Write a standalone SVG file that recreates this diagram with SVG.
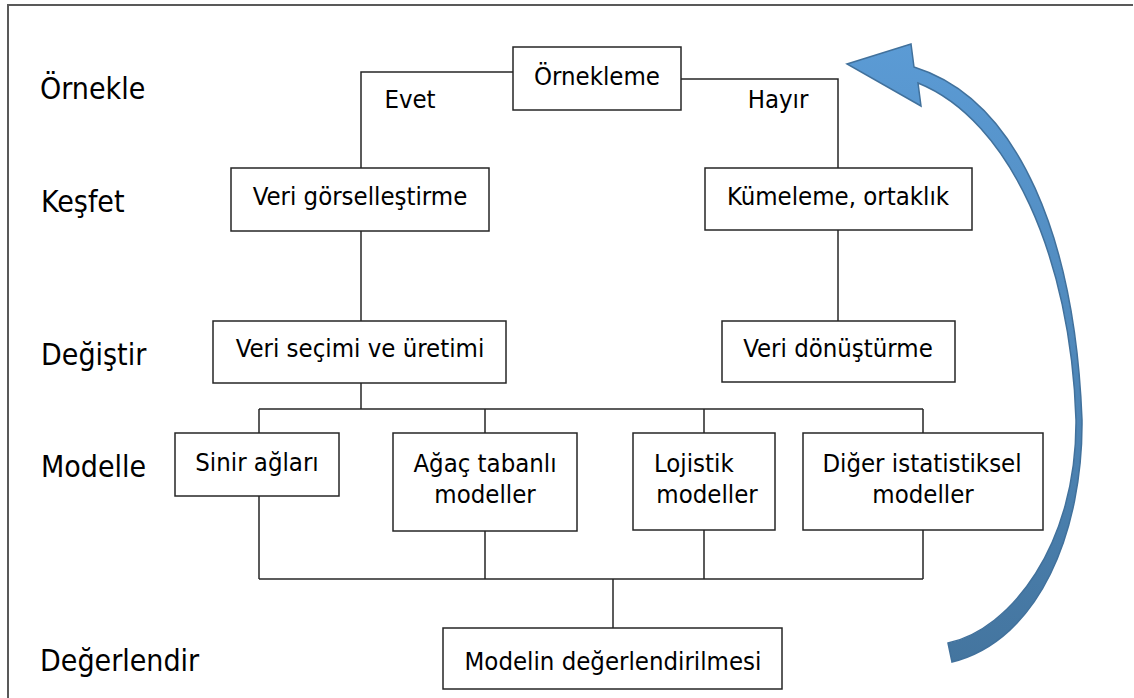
<svg xmlns="http://www.w3.org/2000/svg" width="1134" height="698" viewBox="0 0 1134 698">
  <style>
    .box { fill: #ffffff; stroke: #262626; stroke-width: 1.5; }
    .t { font-family: "DejaVu Sans Condensed", "DejaVu Sans", sans-serif; font-size: 25.5px; fill: #000; text-anchor: middle; }
    .lbl { font-family: "DejaVu Sans Condensed", "DejaVu Sans", sans-serif; font-size: 30px; fill: #000; }
    .edge { fill: none; stroke: #262626; stroke-width: 1.5; }
  </style>
  <defs>
    <linearGradient id="arrowFill" x1="0" y1="0" x2="0" y2="1">
      <stop offset="0" stop-color="#5b9bd5"/>
      <stop offset="1" stop-color="#44759f"/>
    </linearGradient>
  </defs>
  <rect width="1134" height="698" fill="#ffffff"/>
  <!-- outer frame (top and left edges) -->
  <path d="M8,698 V5 H1133" fill="none" stroke="#595959" stroke-width="2"/>

  <!-- phase labels -->
  <g id="phases">
    <text class="lbl" x="40" y="99">Örnekle</text>
    <text class="lbl" x="41" y="212">Keşfet</text>
    <text class="lbl" x="41" y="365">Değiştir</text>
    <text class="lbl" x="41" y="477">Modelle</text>
    <text class="lbl" x="40" y="671">Değerlendir</text>
  </g>

  <!-- connectors -->
  <g id="connectors">
    <path class="edge" d="M513,72 H361 V168"/>
    <path class="edge" d="M681,79 H838 V168"/>
    <path class="edge" d="M361,231 V321"/>
    <path class="edge" d="M838,230 V321"/>
    <path class="edge" d="M361,383 V409"/>
    <path class="edge" d="M259,409 H923"/>
    <path class="edge" d="M259,409 V433 M485,409 V433 M704,409 V433 M923,409 V433"/>
    <path class="edge" d="M259,496 V579 M485,531 V579 M704,530 V579 M923,530 V579"/>
    <path class="edge" d="M259,579 H923"/>
    <path class="edge" d="M613,579 V628"/>
    <text class="t" x="410" y="108">Evet</text>
    <text class="t" x="778" y="108">Hayır</text>
  </g>

  <g id="ornekleme">
    <rect class="box" x="513" y="47" width="168" height="63"/>
    <text class="t" x="597" y="85">Örnekleme</text>
  </g>
  <g id="veri-gorsellestirme">
    <rect class="box" x="231" y="168" width="258" height="63"/>
    <text class="t" x="360" y="205">Veri görselleştirme</text>
  </g>
  <g id="kumeleme">
    <rect class="box" x="705" y="168" width="267" height="62"/>
    <text class="t" x="838" y="205">Kümeleme, ortaklık</text>
  </g>
  <g id="veri-secimi">
    <rect class="box" x="213" y="321" width="293" height="62"/>
    <text class="t" x="360" y="357">Veri seçimi ve üretimi</text>
  </g>
  <g id="veri-donusturme">
    <rect class="box" x="722" y="321" width="233" height="61"/>
    <text class="t" x="838" y="357">Veri dönüştürme</text>
  </g>
  <g id="sinir-aglari">
    <rect class="box" x="175" y="433" width="164" height="63"/>
    <text class="t" x="257" y="471">Sinir ağları</text>
  </g>
  <g id="agac-tabanli">
    <rect class="box" x="393" y="433" width="184" height="98"/>
    <text class="t" x="485" y="472">Ağaç tabanlı</text>
    <text class="t" x="485" y="503">modeller</text>
  </g>
  <g id="lojistik">
    <rect class="box" x="633" y="433" width="142" height="97"/>
    <text class="t" x="654" y="472" style="text-anchor:start">Lojistik</text>
    <text class="t" x="707" y="503">modeller</text>
  </g>
  <g id="diger">
    <rect class="box" x="803" y="433" width="240" height="97"/>
    <text class="t" x="922" y="472">Diğer istatistiksel</text>
    <text class="t" x="923" y="503">modeller</text>
  </g>
  <g id="model-degerlendirme">
    <rect class="box" x="443" y="628" width="339" height="61"/>
    <text class="t" x="613" y="670">Modelin değerlendirilmesi</text>
  </g>

  <!-- curved return arrow -->
  <g id="return-arrow">
    <path d="M914,67 C1020,100 1075,240 1082,420 C1083,530 1040,640 952,662 L948,643 C1010,630 1077,545 1076,420 C1071,258 1010,120 918,83 L921,106 L847,64 L911,44 Z" fill="url(#arrowFill)" stroke="#41719c" stroke-width="1.5" stroke-linejoin="miter"/>
  </g>
</svg>
